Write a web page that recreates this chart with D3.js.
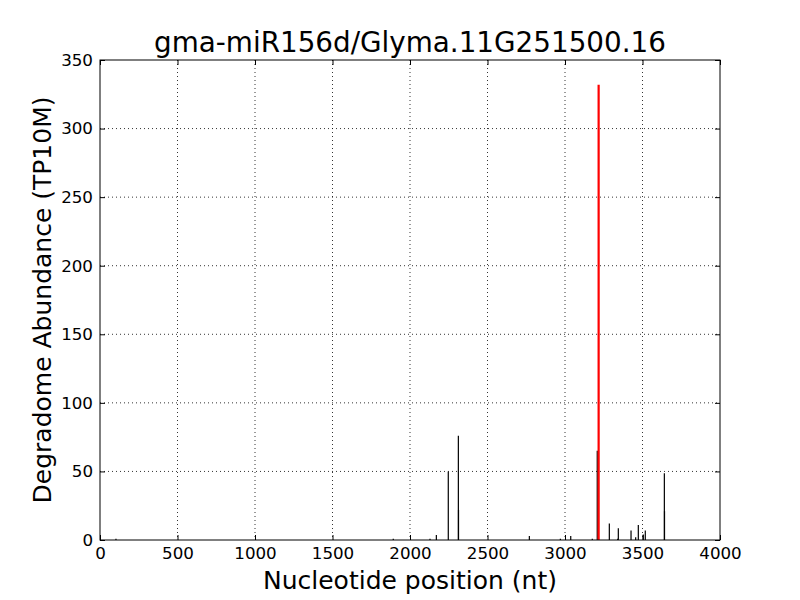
<!DOCTYPE html>
<html lang="en">
<head>
    <meta charset="UTF-8">
    <title>gma-miR156d/Glyma.11G251500.16</title>
    <script src="https://d3js.org/d3.v7.min.js"></script>
    <style>
        body, html { margin: 0; background: #fff; }
        svg { display: block; }
        text { font-family: "DejaVu Sans", sans-serif; fill: #000; }
        .grid line { stroke: #000; stroke-dasharray: 1,3; stroke-width: 0.8; }
    </style>
</head>
<body>
<script>
    // degradome peaks (position in nt, abundance in TP10M)
    const positions = [103, 1892, 2129, 2170, 2247, 2312, 2313, 2770, 2970, 3037, 3176, 3208,
                       3286, 3340, 3344, 3426, 3456, 3473, 3505, 3518, 3641, 3642];
    const abundance = [1, 1, 1, 3.6, 50, 76, 22, 3, 1, 3, 1, 65,
                       12, 1, 8.5, 7, 2, 11, 4, 7, 48.6, 21];
    // miRNA cleavage site
    const sitePos = [3217];
    const siteVal = [332];

    const xTicks = [0, 500, 1000, 1500, 2000, 2500, 3000, 3500, 4000];
    const yTicks = [0, 50, 100, 150, 200, 250, 300, 350];

    const width = 800, height = 600;
    const margin = {top: 60, right: 80, bottom: 60, left: 100};
    const w = width - margin.left - margin.right;
    const h = height - margin.top - margin.bottom;

    const svg = d3.select("body").append("svg")
        .attr("width", width)
        .attr("height", height);

    const g = svg.append("g")
        .attr("transform", `translate(${margin.left},${margin.top})`);

    const x = d3.scaleLinear().domain([0, 4000]).range([0, w]);
    const y = d3.scaleLinear().domain([0, 350]).range([h, 0]);

    // dotted grid
    const grid = g.append("g").attr("class", "grid");
    grid.selectAll(".vx")
        .data(xTicks.slice(1, -1))
        .join("line")
        .attr("x1", d => x(d)).attr("x2", d => x(d))
        .attr("y1", 0).attr("y2", h);
    grid.selectAll(".hy")
        .data(yTicks.slice(1, -1))
        .join("line")
        .attr("class", "hy")
        .attr("y1", d => y(d)).attr("y2", d => y(d))
        .attr("x1", 0).attr("x2", w);

    const peaks = positions.map((p, i) => ({p: p, v: abundance[i]}));

    g.append("g")
        .selectAll("line")
        .data(peaks)
        .join("line")
        .attr("x1", d => x(d.p)).attr("x2", d => x(d.p))
        .attr("y1", y(0)).attr("y2", d => y(d.v))
        .attr("stroke", "#000")
        .attr("stroke-width", 1.2);

    g.append("g")
        .selectAll("line")
        .data(sitePos.map((p, i) => ({p: p, v: siteVal[i]})))
        .join("line")
        .attr("x1", d => x(d.p)).attr("x2", d => x(d.p))
        .attr("y1", y(0)).attr("y2", d => y(d.v))
        .attr("stroke", "#ff0000")
        .attr("stroke-width", 2.2);

    // axes with inward ticks on all sides
    const tickLen = 5;
    const fmt = d3.format("d");
    const xb = g.append("g").attr("transform", `translate(0,${h})`)
        .call(d3.axisBottom(x).tickValues(xTicks).tickFormat(fmt).tickSizeInner(-tickLen).tickSizeOuter(0).tickPadding(7));
    const xt = g.append("g")
        .call(d3.axisTop(x).tickValues(xTicks).tickSizeInner(-tickLen).tickSizeOuter(0).tickFormat(""));
    const yl = g.append("g")
        .call(d3.axisLeft(y).tickValues(yTicks).tickFormat(fmt).tickSizeInner(-tickLen).tickSizeOuter(0).tickPadding(7));
    const yr = g.append("g").attr("transform", `translate(${w},0)`)
        .call(d3.axisRight(y).tickValues(yTicks).tickSizeInner(-tickLen).tickSizeOuter(0).tickFormat(""));

    [xb, xt, yl, yr].forEach(a => {
        a.select(".domain").remove();
        a.selectAll("line").attr("stroke", "#000");
        a.selectAll("text")
            .style("font-family", "'DejaVu Sans', sans-serif")
            .style("font-size", "16.7px")
            .attr("fill", "#000");
    });

    g.append("rect")
        .attr("width", w).attr("height", h)
        .attr("fill", "none")
        .attr("stroke", "#000")
        .attr("stroke-width", 1);

    svg.append("text")
        .attr("x", margin.left + w / 2)
        .attr("y", 52)
        .attr("text-anchor", "middle")
        .style("font-size", "27.8px")
        .text("gma-miR156d/Glyma.11G251500.16");

    svg.append("text")
        .attr("x", margin.left + w / 2)
        .attr("y", 589)
        .attr("text-anchor", "middle")
        .style("font-size", "25px")
        .text("Nucleotide position (nt)");

    svg.append("text")
        .attr("transform", `translate(51,${margin.top + h / 2}) rotate(-90)`)
        .attr("text-anchor", "middle")
        .style("font-size", "25px")
        .text("Degradome Abundance (TP10M)");
</script>
</body>
</html>
